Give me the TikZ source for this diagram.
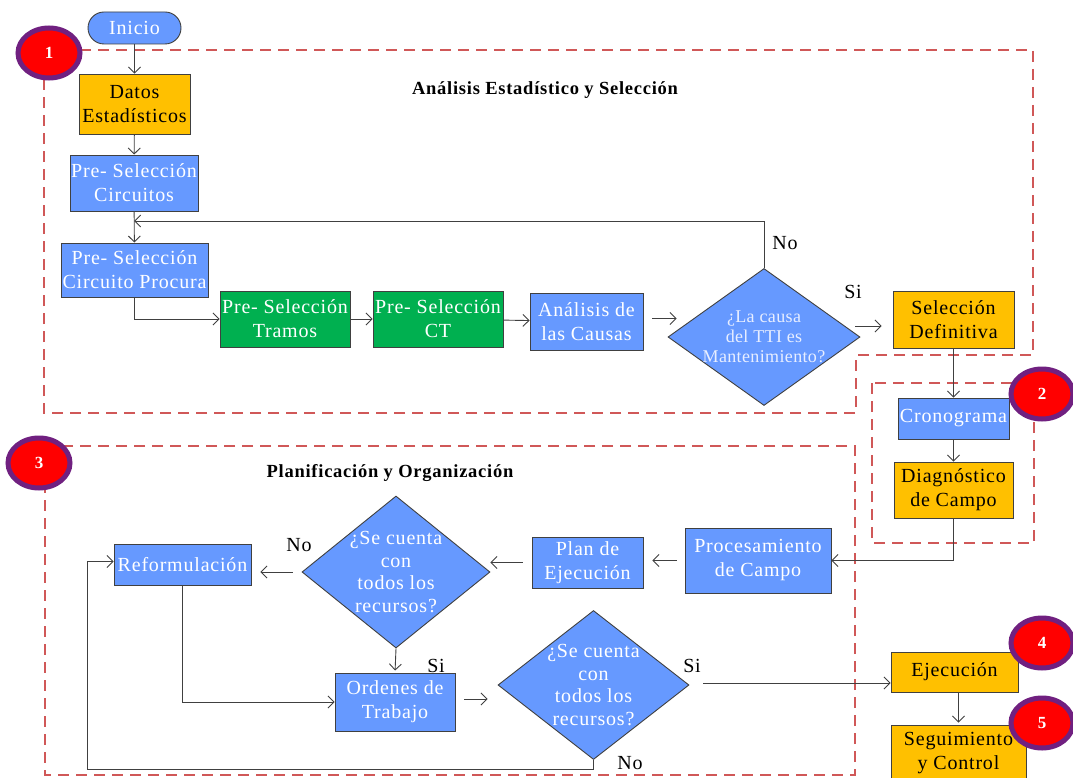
\documentclass[tikz,border=0pt]{standalone}
\usepackage{fontspec}
\setmainfont{Liberation Serif}
\newfontfamily\boxfont[LetterSpace=4]{Liberation Serif}
\newfontfamily\qfont[LetterSpace=2]{Liberation Serif}
\usetikzlibrary{shapes.geometric, arrows.meta}

\definecolor{cblue}{RGB}{102,153,255}
\definecolor{cyellow}{RGB}{255,192,0}
\definecolor{cgreen}{RGB}{0,176,80}
\definecolor{cline}{RGB}{64,64,64}
\definecolor{cdash}{RGB}{208,88,88}
\definecolor{cbadge}{RGB}{255,0,0}
\definecolor{cpurple}{RGB}{112,32,128}
\definecolor{cpale}{RGB}{232,238,255}

\begin{document}
\begin{tikzpicture}[x=1pt, y=-1pt,
  box/.style={rectangle, draw=cline, line width=0.9pt, align=center, inner sep=0pt,
              font=\boxfont\fontsize{20}{24}\selectfont},
  bbox/.style={box, fill=cblue, text=white},
  ybox/.style={box, fill=cyellow, text=black},
  gbox/.style={box, fill=cgreen, text=white},
  startbox/.style={box, fill=cblue, text=white, rounded corners=16pt},
  dec/.style={diamond, draw=cline, line width=0.9pt, fill=cblue, inner sep=0pt},
  qtext/.style={align=center, text=white, font=\boxfont\fontsize{20}{22.7}\selectfont},
  qpale/.style={align=center, text=cpale, font=\qfont\fontsize{18}{20}\selectfont},
  lbl/.style={inner sep=0pt, font=\boxfont\fontsize{20}{22}\selectfont},
  title/.style={inner sep=0pt, font=\boxfont\bfseries\fontsize{18.5}{21}\selectfont},
  arr/.style={draw=cline, line width=0.9pt, -{Straight Barb[length=6pt,width=12pt]}},
  zone/.style={draw=cdash, line width=2pt, dash pattern=on 11pt off 7pt},
  badge/.style={ellipse, fill=cbadge, draw=cpurple, line width=5pt, inner sep=0pt,
                minimum width=62pt, minimum height=50pt, text=white,
                font=\bfseries\fontsize{17}{19}\selectfont}
]
\useasboundingbox (0,0) rectangle (1073,778);
\fill[white] (0,0) rectangle (1073,778);

% dashed zones
\draw[zone] (44,50) -- (1033,50) -- (1033,355) -- (856,355) -- (856,413) -- (44,413) -- cycle;
\draw[zone] (872,383) rectangle (1034,543);
\draw[zone] (45,446) rectangle (855,775);

% zone titles
\node[title] (t1) at (545,90) {Análisis Estadístico y Selección};
\node[title] (t3) at (390,473) {Planificación y Organización};

% stage 1
\node[startbox, minimum width=93pt, minimum height=32pt] (ini) at (134.5,28) {Inicio};
\node[ybox, minimum width=111pt, minimum height=60pt] (datos) at (134.5,104) {Datos\\Estadísticos};
\node[bbox, minimum width=128pt, minimum height=56pt] (pc) at (134,183) {Pre- Selección\\Circuitos};
\node[bbox, minimum width=147pt, minimum height=54pt] (pp) at (134.5,270) {Pre- Selección\\Circuito Procura};
\node[gbox, minimum width=130pt, minimum height=56pt] (tr) at (285,319) {Pre- Selección\\Tramos};
\node[gbox, minimum width=130pt, minimum height=56pt] (ct) at (438,319) {Pre- Selección\\CT};
\node[bbox, minimum width=113pt, minimum height=57pt] (an) at (586.5,321.5) {Análisis de\\las Causas};
\node[dec, minimum width=192pt, minimum height=137pt] (d1) at (764,337) {};
\node[qpale] (d1t) at (d1.center) {¿La causa\\del TTI es\\Mantenimiento?};
\node[ybox, minimum width=121pt, minimum height=57pt] (sd) at (953.5,319.5) {Selección\\Definitiva};

% stage 2
\node[bbox, minimum width=111pt, minimum height=41pt] (cr) at (953.5,418.5) {Cronograma};
\node[ybox, minimum width=119pt, minimum height=56pt] (dc) at (953.5,490) {Diagnóstico\\de Campo};

% stage 3
\node[bbox, minimum width=146pt, minimum height=65pt] (pr) at (758,560.5) {Procesamiento\\de Campo};
\node[bbox, minimum width=111pt, minimum height=51pt] (pl) at (587.5,562.5) {Plan de\\Ejecución};
\node[dec, minimum width=188pt, minimum height=152pt] (dA) at (396,572) {};
\node[qtext] (dAt) at (dA.center) {¿Se cuenta\\con\\todos los\\recursos?};
\node[bbox, minimum width=137pt, minimum height=41pt] (rf) at (182.5,564.5) {Reformulación};
\node[bbox, minimum width=120pt, minimum height=58pt] (or) at (395,702) {Ordenes de\\Trabajo};
\node[dec, minimum width=191pt, minimum height=149pt] (dB) at (593.5,685) {};
\node[qtext] (dBt) at (dB.center) {¿Se cuenta\\con\\todos los\\recursos?};

% stages 4 and 5
\node[ybox, minimum width=127pt, minimum height=40pt] (ej) at (954.5,672) {Ejecución};
\node[ybox, minimum width=135pt, minimum height=56pt] (sg) at (958.5,753) {Seguimiento\\y Control};

% branch labels
\node[lbl] (no1) at (785,243) {No};
\node[lbl] (si1) at (853,292) {Si};
\node[lbl] (noA) at (299,545) {No};
\node[lbl] (siA) at (436,666) {Si};
\node[lbl] (siB) at (692,666) {Si};
\node[lbl] (noB) at (630,763) {No};

% connectors, stage 1
\coordinate (loop1) at (134,221);
\draw[arr] (ini) -- (datos);
\draw[arr] (datos) -- (pc);
\draw[arr] (pc) -- (pp);
\draw[arr] (d1.north) |- (loop1);
\draw[arr] (pp.south) |- (tr.west);
\draw[arr] (tr) -- (ct);
\draw[arr] (ct) -- (an);
\draw[arr, shorten <=9pt, shorten >=-9pt] ([yshift=3pt]an.east) -- ([yshift=3pt]an.east -| d1.west);
\draw[arr, shorten <=-5pt, shorten >=11pt] ([yshift=11pt]d1.east) -- ([yshift=11pt]d1.east -| sd.west);
\draw[arr] (sd) -- (cr);

% connectors, stage 2 to 3
\draw[arr] (cr) -- (dc);
\draw[arr] (dc.south) |- (pr.east);
\draw[arr, shorten <=8pt, shorten >=9pt] (pr.west) -- (pr.west -| pl.east);
\draw[arr, shorten <=9pt] (pl.west) -- (pl.west -| dA.east);
\draw[arr, shorten <=9pt, shorten >=9pt] (dA.west) -- (dA.west -| rf.east);
\draw[arr, shorten >=2pt] (dA.south) -- (or.north);
\draw[arr] (rf.south) |- (or.west);
\draw[arr, shorten <=9pt, shorten >=10pt] ([yshift=3pt]or.east) -- ([yshift=3pt]or.east -| dB.west);
\draw[arr, shorten <=14pt] ([yshift=2pt]dB.east) -- ([yshift=2pt]dB.east -| ej.west);
\draw[arr] (dB.south) -- ++(0,9) -| ([xshift=-26pt,yshift=3pt]rf.west) -- ([yshift=3pt]rf.west);

% stage 4 to 5
\draw[arr, shorten >=2pt] (ej.south -| sg.north) -- (sg.north);

% stage badges
\node[badge] (b1) at (49,53) {1};
\node[badge] (b2) at (1042,394) {2};
\node[badge] (b3) at (39,463) {3};
\node[badge] (b4) at (1042,643) {4};
\node[badge] (b5) at (1042,723) {5};
\end{tikzpicture}
\end{document}
